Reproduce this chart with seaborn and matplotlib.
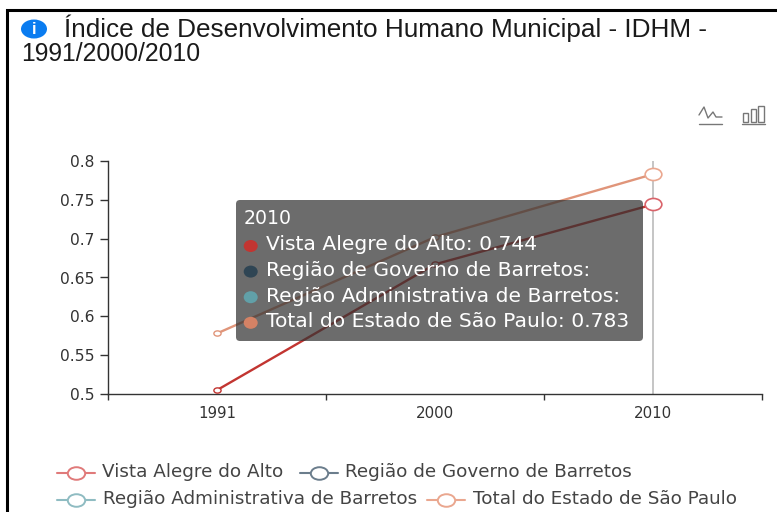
import matplotlib
matplotlib.use("Agg")
import matplotlib.pyplot as plt
from matplotlib.patches import FancyBboxPatch, Ellipse, Rectangle
from matplotlib.lines import Line2D
from matplotlib.path import Path
from matplotlib.transforms import Affine2D
import pandas as pd
import seaborn as sns

years = ["1991", "2000", "2010"]
vista = [0.505, 0.667, 0.744]
total = [0.578, 0.702, 0.783]
yticks = [0.5, 0.55, 0.6, 0.65, 0.7, 0.75, 0.8]
ytick_labels = ["0.5", "0.55", "0.6", "0.65", "0.7", "0.75", "0.8"]
legend_names = ["Vista Alegre do Alto", "Região de Governo de Barretos",
                "Região Administrativa de Barretos", "Total do Estado de São Paulo"]
legend_colors = ["#e07a7a", "#6b7d8c", "#8fbcc2", "#eaa78f"]
tip_title = "2010"
tip_rows = ["Vista Alegre do Alto: 0.744", "Região de Governo de Barretos:",
            "Região Administrativa de Barretos:", "Total do Estado de São Paulo: 0.783"]
tip_colors = ["#c23531", "#2f4554", "#61a0a8", "#d48265"]

sns.set_theme(style="white")
plt.rcParams["font.family"] = ["DejaVu Sans"]
W, H = 777, 512
fig = plt.figure(figsize=(W / 100, H / 100), dpi=100, facecolor="white")
ax = fig.add_axes([108 / W, 1 - 394 / H, (762 - 108) / W, (394 - 161) / H])
ax.patch.set_alpha(0)

oval = Path.unit_circle().transformed(Affine2D().scale(1.38, 1.0))

df = pd.DataFrame({"ano": list(range(3)) * 2, "idhm": vista + total,
                   "serie": [legend_names[0]] * 3 + [legend_names[3]] * 3})
line_pal = {legend_names[0]: "#c23531", legend_names[3]: "#e0957a"}
sns.lineplot(data=df, x="ano", y="idhm", hue="serie", palette=line_pal,
             linewidth=1.7, ax=ax, legend=False, zorder=3)
for name, col in line_pal.items():
    sub = df[df["serie"] == name].iloc[:2]
    ax.plot(sub["ano"], sub["idhm"], linestyle="none", marker=oval, ms=5.2,
            mfc="white", mec=col, mew=1, zorder=4, clip_on=False)
ax.set_xlim(-0.5, 2.5)
ax.set_ylim(0.5, 0.8)
ax.set_xlabel("")
ax.set_ylabel("")
ax.set_yticks(yticks)
ax.set_yticklabels(ytick_labels)
ax.set_xticks([0, 1, 2])
ax.set_xticklabels(years)
ax.set_xticks([-0.5, 0.5, 1.5, 2.5], minor=True)
ax.tick_params(axis="x", which="major", length=0, pad=8.5, labelsize=10.8, labelcolor="#333333")
ax.tick_params(axis="x", which="minor", length=4, width=1, color="#333333", bottom=True)
ax.tick_params(axis="y", length=5.8, width=1, color="#333333", pad=4, labelsize=11.2,
               labelcolor="#333333", left=True)
for s in ["top", "right"]:
    ax.spines[s].set_visible(False)
for s in ["left", "bottom"]:
    ax.spines[s].set_color("#333333")
    ax.spines[s].set_linewidth(1)

ax.axvline(2, color="#b5b5b5", lw=1.1, zorder=2)
ax.plot([2], [vista[2]], linestyle="none", marker=oval, ms=12, mfc="white", mec="#d9636a", mew=1.2,
        zorder=4, clip_on=False)
ax.plot([2], [total[2]], linestyle="none", marker=oval, ms=12, mfc="white", mec="#eaa78f", mew=1.2,
        zorder=4, clip_on=False)

# page-level overlay in pixel coordinates
ov = fig.add_axes([0, 0, 1, 1], zorder=5)
ov.set_xlim(0, W)
ov.set_ylim(H, 0)
ov.axis("off")

# frame
ov.plot([7, 7, W], [H, 9.5, 9.5], color="black", lw=2.2, solid_joinstyle="miter")

# title
ov.add_patch(Ellipse((34, 29), 26, 19, fc="#0a7cf0", ec="none"))
ov.text(34, 29, "i", color="white", fontsize=12, fontweight="bold", ha="center", va="center",
        family=["Liberation Sans"])
ov.text(64, 28, "Índice de Desenvolvimento Humano Municipal - IDHM -", fontsize=18.8,
        family=["Liberation Sans"], color="#1a1a1a", va="center")
ov.text(21, 54, "1991/2000/2010", fontsize=17.8, family=["Liberation Sans"], color="#1a1a1a", va="center")

# toolbox icons
c = "#777777"
ov.plot([699, 704, 708, 713, 716, 722], [115, 107, 118, 112, 117, 117], color=c, lw=1)
ov.plot([699, 722], [124, 124], color=c, lw=1)
for x0, x1, top in [(742.5, 748, 113), (751, 756, 109), (758, 764, 106)]:
    ov.add_patch(Rectangle((x0, top), x1 - x0, 122 - top, fc="none", ec=c, lw=1))
ov.plot([742, 765], [124, 124], color=c, lw=1)

# tooltip
ov.add_patch(FancyBboxPatch((236, 200), 407, 141, boxstyle="round,pad=0,rounding_size=4",
                            fc="#333333", ec="none", alpha=0.72))
ov.text(244, 219, tip_title, color="white", fontsize=13.6, va="center")
for i, (name, col) in enumerate(zip(tip_rows, tip_colors)):
    y = 246 + i * 25.6
    ov.add_patch(Ellipse((250.7, y), 14, 12, fc=col, ec="none"))
    ov.text(266, y - 1, name, color="white", fontsize=14.6, va="center")

# legend
rows = [(472.5, [(57, 102, 0), (300, 345, 1)]), (499.5, [(57, 103, 2), (427, 473, 3)])]
for y, entries in rows:
    for x0, tx, idx in entries:
        col = legend_colors[idx]
        ov.add_line(Line2D([x0, x0 + 38], [y, y], color=col, lw=1.5, zorder=1))
        ov.plot([x0 + 18.5], [y], linestyle="none", marker=oval, ms=12.5, mfc="white", mec=col,
                mew=1.4, zorder=2)
        ov.text(tx, y - 0.5, legend_names[idx], fontsize=13.2, color="#444444", va="center")

fig.savefig("out.png", dpi=100)
